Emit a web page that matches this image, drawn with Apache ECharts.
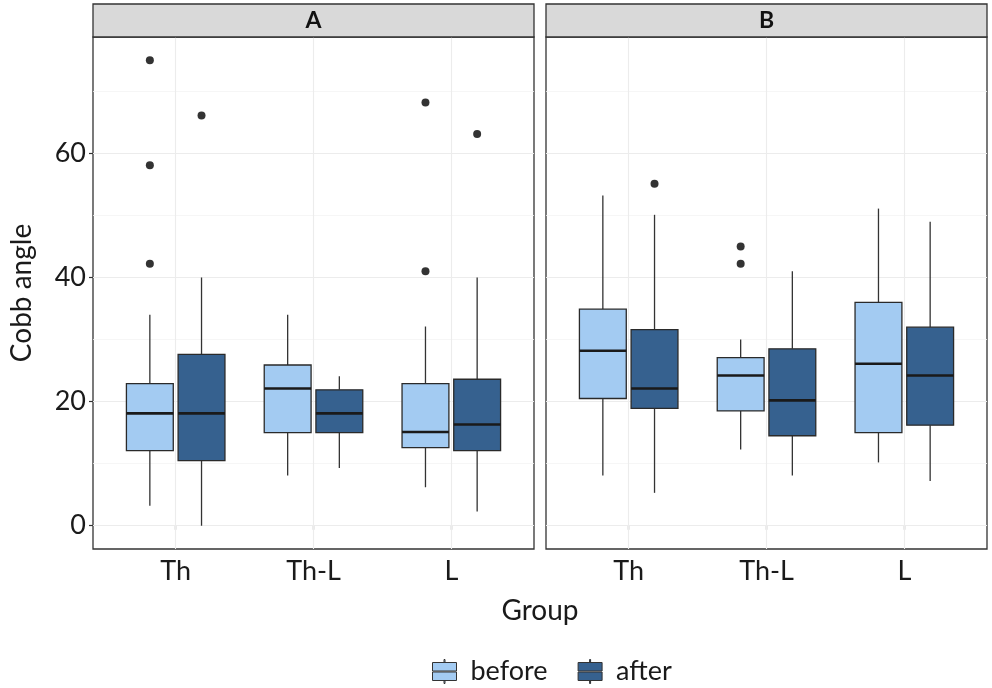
<!DOCTYPE html>
<html><head><meta charset="utf-8">
<script src="https://cdn.jsdelivr.net/npm/echarts@6/dist/echarts.min.js"></script>
<style>html,body{margin:0;padding:0;background:#fff}#c{width:992px;height:688px}</style>
</head><body><div id="c"></div>
<script>
// ---- data ----
const categories = ['Th', 'Th-L', 'L'];
const panels = ['A', 'B'];
const groups = ['before', 'after'];
// box stats per category: [min, Q1, median, Q3, max]
const A_before = [[3.2, 12.1, 18.1, 22.9, 34.0], [8.1, 15.0, 22.1, 25.9, 34.0], [6.2, 12.6, 15.1, 22.9, 32.1]];
const A_after  = [[0.0, 10.5, 18.1, 27.6, 40.0], [9.3, 15.0, 18.1, 21.9, 24.1], [2.3, 12.1, 16.3, 23.6, 40.0]];
const B_before = [[8.1, 20.5, 28.2, 34.9, 53.2], [12.3, 18.5, 24.2, 27.1, 30.0], [10.2, 15.0, 26.1, 36.0, 51.1]];
const B_after  = [[5.3, 18.9, 22.1, 31.6, 50.1], [8.1, 14.5, 20.2, 28.5, 41.0], [7.2, 16.2, 24.2, 32.0, 49.0]];
// outliers per category
const A_before_out = [[75.0, 58.1, 42.2], [], [68.2, 41.0]];
const A_after_out  = [[66.1], [], [63.1]];
const B_before_out = [[], [45.0, 42.2], []];
const B_after_out  = [[55.1], [], []];
const yTicks = [0, 20, 40, 60];
const yMinor = [10, 30, 50, 70];

// ---- styling ----
const FONT = 'Lato';
const colors = { before: '#a3cbf2', after: '#36618f' };
const dodge = { before: -0.1875, after: 0.1875 };
const BOX_W = 0.34;
const Y_MIN = -3.75, Y_MAX = 78.75;
const gridsPx = [{ left: 93, top: 37, width: 441, height: 512 }, { left: 546, top: 37, width: 441, height: 512 }];
const statsByPanel = { A: { before: A_before, after: A_after }, B: { before: B_before, after: B_after } };
const outByPanel = { A: { before: A_before_out, after: A_after_out }, B: { before: B_before_out, after: B_after_out } };
const catPos = categories.map((c, i) => i + 1);

function makeRender(g) {
  return function (params, api) {
    const x = api.value(0) + dodge[g];
    const pMin = api.coord([x, api.value(1)]);
    const pQ1 = api.coord([x, api.value(2)]);
    const pMed = api.coord([x, api.value(3)]);
    const pQ3 = api.coord([x, api.value(4)]);
    const pMax = api.coord([x, api.value(5)]);
    const w = api.size([BOX_W, 0])[0];
    const cx = pMed[0];
    const ls = { stroke: '#333', lineWidth: 1.3 };
    return {
      type: 'group', children: [
        { type: 'line', shape: { x1: cx, y1: pMax[1], x2: cx, y2: pQ3[1] }, style: ls },
        { type: 'line', shape: { x1: cx, y1: pQ1[1], x2: cx, y2: pMin[1] }, style: ls },
        { type: 'rect', shape: { x: cx - w / 2, y: pQ3[1], width: w, height: pQ1[1] - pQ3[1] },
          style: { fill: colors[g], stroke: '#2a2a2a', lineWidth: 1.3 } },
        { type: 'line', shape: { x1: cx - w / 2, y1: pMed[1], x2: cx + w / 2, y2: pMed[1] },
          style: { stroke: '#1a1a1a', lineWidth: 2.6 } }
      ]
    };
  };
}

const grid = gridsPx.map(p => Object.assign({ show: true, borderColor: '#333', borderWidth: 1.3, backgroundColor: '#fff' }, p));
const xAxis = panels.map((p, i) => ({
  gridIndex: i, type: 'value', min: 0.4, max: 3.6,
  axisLine: { show: false },
  axisTick: { show: true, length: 4, customValues: catPos, lineStyle: { color: '#333', width: 1.2 } },
  axisLabel: { customValues: catPos, formatter: v => categories[Math.round(v) - 1] || '', fontSize: 27, fontFamily: FONT, color: '#1a1a1a', margin: 9 },
  splitLine: { show: false }
}));
const yAxis = panels.map((p, i) => ({
  gridIndex: i, type: 'value', min: Y_MIN, max: Y_MAX,
  axisLine: { show: false },
  axisTick: { show: i === 0, length: 4, customValues: yTicks, lineStyle: { color: '#333', width: 1.2 } },
  axisLabel: { show: i === 0, customValues: yTicks, fontSize: 27, fontFamily: FONT, color: '#1a1a1a', margin: 7 },
  splitLine: { show: false },
  name: i === 0 ? 'Cobb angle' : '', nameLocation: 'middle', nameGap: 57,
  nameTextStyle: { fontSize: 28, fontFamily: FONT, color: '#1a1a1a' }
}));

const series = [];
panels.forEach((p, i) => {
  // grid lines
  const ml = [];
  yTicks.forEach(v => ml.push({ yAxis: v, lineStyle: { color: '#ececec', width: 1.1, type: 'solid' } }));
  yMinor.forEach(v => ml.push({ yAxis: v, lineStyle: { color: '#f4f4f4', width: 0.8, type: 'solid' } }));
  catPos.forEach(v => ml.push({ xAxis: v, lineStyle: { color: '#ececec', width: 1.1, type: 'solid' } }));
  series.push({
    type: 'scatter', xAxisIndex: i, yAxisIndex: i, data: [], z: 1, silent: true,
    markLine: { silent: true, symbol: ['none', 'none'], label: { show: false }, animation: false, z: 1, data: ml }
  });
  groups.forEach(g => {
    series.push({
      type: 'custom', name: g, xAxisIndex: i, yAxisIndex: i, z: 10,
      itemStyle: { color: colors[g], borderColor: '#333' },
      encode: { x: 0, y: [1, 2, 3, 4, 5] },
      renderItem: makeRender(g),
      data: statsByPanel[p][g].map((s, k) => [catPos[k]].concat(s))
    });
    const pts = [];
    outByPanel[p][g].forEach((arr, k) => arr.forEach(v => pts.push([catPos[k] + dodge[g], v])));
    series.push({
      type: 'scatter', name: g + ' outliers', xAxisIndex: i, yAxisIndex: i, z: 11,
      symbolSize: 8, itemStyle: { color: '#000' }, data: pts
    });
  });
});

const keyIcon = 'path://M12.5,0H13.5V3H12.5Z M1,3H25V11.5H1Z M1,12.5H25V21H1Z M12.5,21H13.5V24H12.5Z';
const graphic = [];
panels.forEach((p, i) => {
  const gp = gridsPx[i];
  graphic.push({ type: 'rect', shape: { x: gp.left, y: 4, width: gp.width, height: gp.top - 4 },
    style: { fill: '#d9d9d9', stroke: '#333', lineWidth: 1.3 }, z: 5 });
  graphic.push({ type: 'text', x: gp.left + gp.width / 2, y: 21, z: 6,
    style: { text: p, fontSize: 23, fontWeight: 'bold', fontFamily: FONT, fill: '#111', align: 'center', verticalAlign: 'middle' } });
});
graphic.push({ type: 'text', x: 540, y: 611, style: { text: 'Group', fontSize: 28, fontFamily: FONT, fill: '#1a1a1a', align: 'center', verticalAlign: 'middle' } });

const chart = echarts.init(document.getElementById('c'));
chart.setOption({
  animation: false,
  backgroundColor: '#fff',
  textStyle: { fontFamily: FONT },
  grid, xAxis, yAxis, series, graphic,
  legend: {
    left: 427, top: 653, itemWidth: 26, itemHeight: 24, itemGap: 30,
    textStyle: { fontSize: 27, fontFamily: FONT, color: '#1a1a1a', padding: [0, 0, 0, 8] },
    data: groups.map(g => ({ name: g, icon: keyIcon, itemStyle: { color: colors[g], borderColor: '#333', borderWidth: 1 } }))
  }
});
</script>
</body></html>
